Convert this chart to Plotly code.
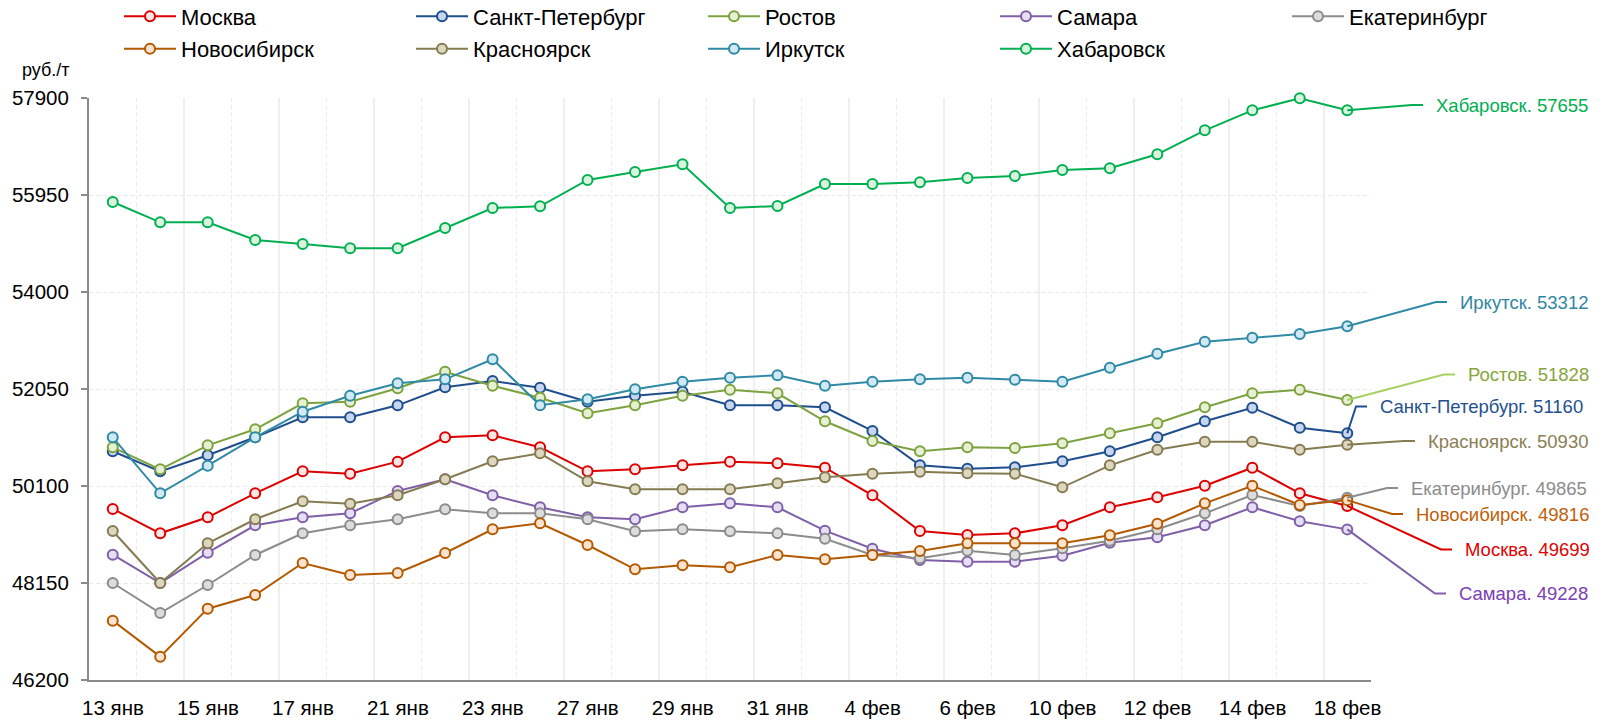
import plotly.graph_objects as go

# ---- data -------------------------------------------------------------
dates = ["13 янв", "14 янв", "15 янв", "16 янв", "17 янв", "20 янв", "21 янв",
         "22 янв", "23 янв", "24 янв", "27 янв", "28 янв", "29 янв", "30 янв",
         "31 янв", "3 фев", "4 фев", "5 фев", "6 фев", "7 фев", "10 фев",
         "11 фев", "12 фев", "13 фев", "14 фев", "17 фев", "18 фев"]

moskva = [49638, 49149, 49471, 49953, 50395, 50347, 50589, 51079, 51119, 50878,
          50395, 50436, 50516, 50589, 50556, 50468, 49913, 49195, 49115, 49149,
          49310, 49672, 49873, 50106, 50468, 49953, 49699]
spb = [50798, 50395, 50717, 51079, 51481, 51481, 51722, 52084, 52211, 52076,
       51795, 51915, 51996, 51722, 51722, 51682, 51206, 50516, 50448, 50476,
       50597, 50798, 51079, 51401, 51674, 51272, 51160]
rostov = [50878, 50436, 50918, 51240, 51763, 51795, 52064, 52398, 52116, 51875,
          51562, 51722, 51915, 52036, 51964, 51401, 51005, 50798, 50878, 50864,
          50959, 51160, 51361, 51682, 51964, 52036, 51828]
samara = [48719, 48150, 48759, 49310, 49471, 49551, 50000, 50235, 49913, 49672,
          49471, 49431, 49672, 49752, 49672, 49202, 48840, 48612, 48578, 48578,
          48699, 48960, 49069, 49310, 49672, 49390, 49228]
ekaterinburg = [48150, 47547, 48110, 48713, 49149, 49310, 49431, 49632, 49551, 49551,
                49431, 49189, 49230, 49189, 49149, 49041, 48713, 48647, 48800, 48713,
                48848, 49001, 49230, 49551, 49919, 49698, 49865]
novosibirsk = [47393, 46669, 47634, 47909, 48552, 48311, 48351, 48753, 49230, 49350,
               48914, 48426, 48506, 48466, 48713, 48627, 48713, 48793, 48948, 48948,
               48948, 49109, 49342, 49752, 50106, 49718, 49816]
krasnoyarsk = [49195, 48150, 48948, 49431, 49793, 49744, 49913, 50235, 50597, 50758,
               50195, 50034, 50034, 50034, 50154, 50275, 50347, 50388, 50355, 50347,
               50074, 50516, 50830, 50991, 50991, 50830, 50930]
irkutsk = [51079, 49953, 50508, 51079, 51594, 51915, 52164, 52245, 52647, 51722,
           51843, 52044, 52197, 52277, 52325, 52116, 52197, 52245, 52277, 52237,
           52197, 52478, 52760, 53001, 53081, 53156, 53312]
khabarovsk = [55809, 55401, 55401, 55045, 54965, 54879, 54879, 55287, 55689, 55723,
              56252, 56412, 56567, 55689, 55729, 56171, 56171, 56205, 56292, 56332,
              56453, 56487, 56768, 57250, 57652, 57894, 57655]

y_ticks = [46200, 48150, 50100, 52050, 54000, 55950, 57900]
unit_label = "руб./т"

# ---- styling ----------------------------------------------------------
FONT = "Liberation Sans, Arial, sans-serif"
W, H = 1604, 720
PLOT_L, PLOT_T, PLOT_W, PLOT_H = 89, 98, 1282, 582
Y_LO, Y_HI = y_ticks[0], y_ticks[-1]
X_LO, X_HI = -0.5, len(dates) - 0.5
AXIS_GREY = "#8a8a8a"

# name, values, line colour, marker fill, label colour, leader colour, legend id
series = [
    ("Москва", moskva, "#dc0000", "#fbe6e6", "#e00000", "#dc0000", "legend"),
    ("Санкт-Петербург", spb, "#1f4e8c", "#c6d6ee", "#24508e", "#1f4e8c", "legend"),
    ("Ростов", rostov, "#7da23f", "#e6f0d2", "#86a63c", "#a8d062", "legend"),
    ("Самара", samara, "#7f60a8", "#e6def2", "#7a40b5", "#7f60a8", "legend"),
    ("Екатеринбург", ekaterinburg, "#8c8c8c", "#dcdcdc", "#8c8c8c", "#8c8c8c", "legend"),
    ("Новосибирск", novosibirsk, "#b35900", "#fbe4cf", "#bf5f08", "#b35900", "legend2"),
    ("Красноярск", krasnoyarsk, "#857b51", "#ddd7c0", "#8a7e55", "#857b51", "legend2"),
    ("Иркутск", irkutsk, "#2f8aa6", "#d0e9f2", "#2f86a2", "#2f8aa6", "legend2"),
    ("Хабаровск", khabarovsk, "#00b050", "#d9f3de", "#00b050", "#00b050", "legend2"),
]

# end-label placement (pixel position of the text's left edge and vertical centre)
label_px = {
    "Хабаровск": (1434, 105),
    "Иркутск": (1458, 302),
    "Ростов": (1466, 374.5),
    "Санкт-Петербург": (1378, 406.5),
    "Красноярск": (1426, 441),
    "Екатеринбург": (1409, 488),
    "Новосибирск": (1414, 514),
    "Москва": (1463, 549.5),
    "Самара": (1457, 593.5),
}
STUB, GAP = 11, 11


def paper_x(px):
    return (px - PLOT_L) / PLOT_W


def paper_y(py):
    return (PLOT_T + PLOT_H - py) / PLOT_H


def y_value(py):
    return Y_HI - (py - PLOT_T) / PLOT_H * (Y_HI - Y_LO)


idx = list(range(len(dates)))
fig = go.Figure()
shapes, annotations = [], []

for name, vals, color, fill, lab_color, lead_color, leg in series:
    fig.add_trace(go.Scatter(
        x=idx, y=vals, name=name, mode="lines+markers", legend=leg,
        line=dict(color=color, width=2),
        marker=dict(symbol="circle", size=10, color=fill,
                    line=dict(color=color, width=2)),
        cliponaxis=False,
    ))

    tx, ty = label_px[name]
    start_x = (idx[-1] - X_LO) / (X_HI - X_LO)
    ly = y_value(ty)
    elbow = paper_x(tx - GAP - STUB)
    stub_end = paper_x(tx - GAP)
    shapes.append(dict(
        type="path", xref="paper", yref="y", layer="above",
        path=f"M {start_x},{vals[-1]} L {elbow},{ly} L {stub_end},{ly}",
        line=dict(color=lead_color, width=2),
    ))
    annotations.append(dict(
        xref="paper", yref="y", x=paper_x(tx), y=ly,
        xanchor="left", yanchor="middle", showarrow=False,
        text=f"{name}. {vals[-1]}",
        font=dict(family=FONT, size=18.5, color=lab_color),
    ))

annotations.append(dict(
    xref="paper", yref="paper", x=paper_x(46), y=paper_y(70),
    xanchor="center", yanchor="middle", showarrow=False,
    text=unit_label, font=dict(family=FONT, size=18, color="#000000"),
))

cat_px = PLOT_W / (X_HI - X_LO)
major_vals = [i - 0.5 for i in idx[::2]]
minor_vals = [i + 0.5 for i in idx[::2]]

legend_common = dict(
    orientation="h", itemwidth=52, entrywidth=225, entrywidthmode="pixels",
    font=dict(family=FONT, size=22, color="#000000"),
    bgcolor="rgba(0,0,0,0)", borderwidth=0, yanchor="middle",
    itemclick=False, itemdoubleclick=False,
)

fig.update_layout(
    width=W, height=H,
    margin=dict(l=PLOT_L, r=W - PLOT_L - PLOT_W, t=PLOT_T, b=H - PLOT_T - PLOT_H,
                autoexpand=False),
    paper_bgcolor="white", plot_bgcolor="white",
    font=dict(family=FONT, size=20, color="#000000"),
    showlegend=True,
    legend=dict(legend_common, x=paper_x(119 + 5 * 292), xanchor="right",
                y=paper_y(16.5)),
    legend2=dict(legend_common, x=paper_x(119), xanchor="left", y=paper_y(49)),
    shapes=shapes,
    annotations=annotations,
    xaxis=dict(
        range=[X_LO, X_HI], tickmode="array", tickvals=major_vals,
        ticktext=dates[::2], ticklabelshift=round(cat_px / 2), ticks="",
        tickfont=dict(family=FONT, size=20.5, color="#000000"),
        ticklabelstandoff=8,
        showgrid=True, gridcolor="#efefef", gridwidth=1.5,
        minor=dict(tickmode="array", tickvals=minor_vals, showgrid=True,
                   gridcolor="#ececec", griddash="4px,3px", gridwidth=1, ticks=""),
        showline=True, linecolor=AXIS_GREY, linewidth=2, zeroline=False,
        fixedrange=True,
    ),
    yaxis=dict(
        range=[Y_LO, Y_HI], tickmode="array", tickvals=y_ticks,
        ticktext=[str(v) for v in y_ticks],
        tickfont=dict(family=FONT, size=20.5, color="#000000"),
        ticks="outside", ticklen=6, tickwidth=2, tickcolor=AXIS_GREY,
        ticklabelstandoff=8,
        showgrid=True, gridcolor="#e9e9e9", griddash="4px,3px", gridwidth=1,
        showline=True, linecolor=AXIS_GREY, linewidth=2, zeroline=False,
        fixedrange=True,
    ),
)

fig.write_html("out.html", include_plotlyjs=True, config={"displayModeBar": False})
